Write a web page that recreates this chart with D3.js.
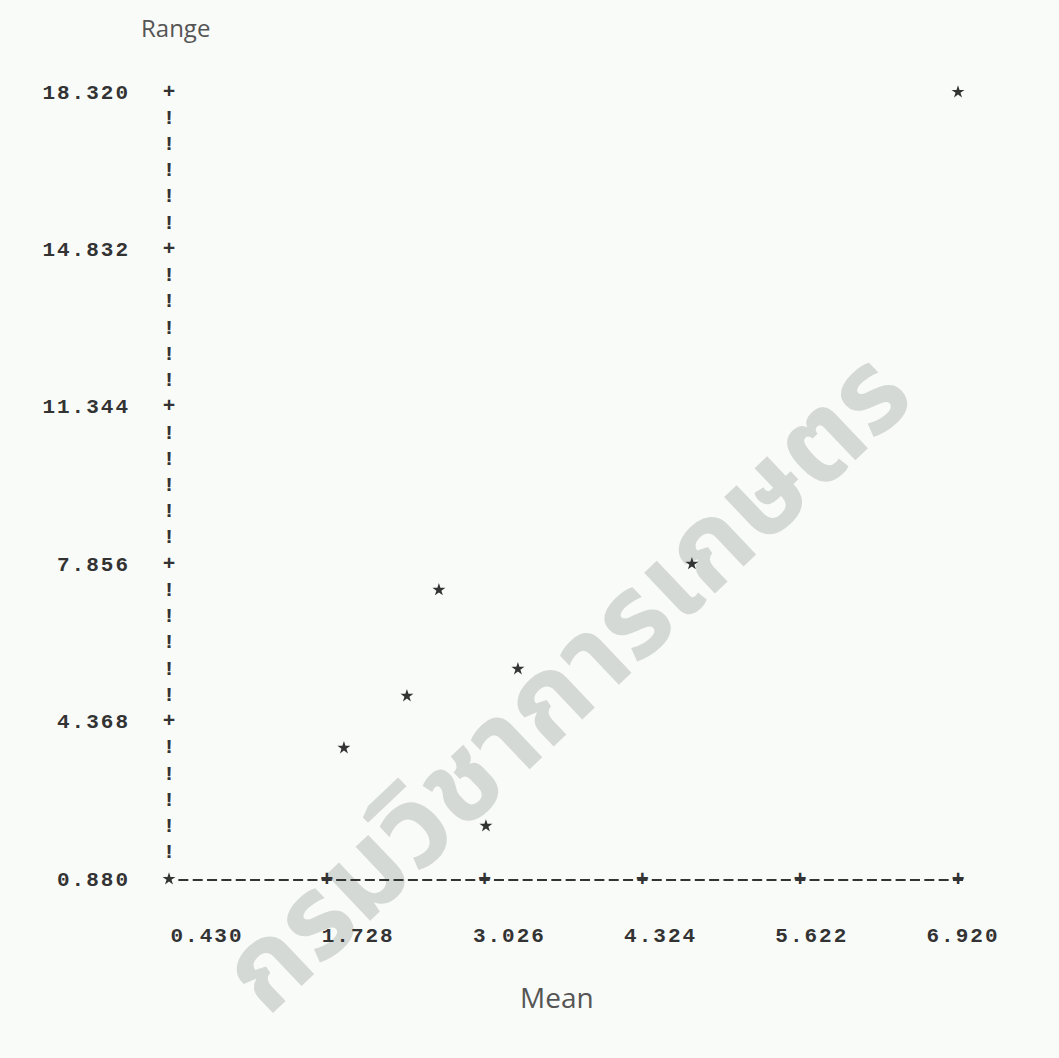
<!DOCTYPE html>
<html>
<head>
<meta charset="utf-8">
<script src="https://cdn.jsdelivr.net/npm/d3@7"></script>
<style>
  html, body { margin: 0; padding: 0; background: #f9fbf9; }
  svg { display: block; }
</style>
</head>
<body>
<svg id="chart"></svg>
<script>
// tick labels as printed by the line-printer plot
const xTickValues = [0.430, 1.728, 3.026, 4.324, 5.622, 6.920];
const xTickLabels = ["0.430", "1.728", "3.026", "4.324", "5.622", "6.920"];
const yTickValues = [0.880, 4.368, 7.856, 11.344, 14.832, 18.320];
const yTickLabels = ["0.880", "4.368", "7.856", "11.344", "14.832", "18.320"];

// series
const meanValues  = [0.430, 1.869, 2.387, 2.650, 3.037, 3.300, 4.731, 6.920];
const rangeValues = [0.880, 3.785, 4.938, 7.288, 2.055, 5.536, 7.864, 18.320];

const watermark = "กรมวิชาการเกษตร";

const W = 1059, H = 1058;
const mono = "'Liberation Mono', 'Courier New', 'DejaVu Sans Mono', monospace";
const ink = "#333";

const svg = d3.select("#chart").attr("width", W).attr("height", H);

svg.append("rect").attr("width", W).attr("height", H).attr("fill", "#f9fbf9");

// watermark sits behind everything
svg.append("text")
  .attr("transform", "translate(568,684) rotate(-43.5)")
  .attr("text-anchor", "middle")
  .attr("dominant-baseline", "central")
  .attr("font-family", "'Noto Sans Thai', 'Noto Sans', 'DejaVu Sans', sans-serif")
  .attr("font-size", 116)
  .attr("font-weight", "bold")
  .attr("fill", "#d5d9d6")
  .text(watermark);

const x = d3.scaleLinear().domain([0.430, 6.920]).range([169, 958]);
const y = d3.scaleLinear().domain([0.880, 18.320]).range([879, 92]);

const g = svg.append("g");

// vertical axis: "+" at ticks, "!" between (6 printer rows per tick step)
const rowsPerTick = 6;
const nRows = (yTickValues.length - 1) * rowsPerTick;
const yStep = (y.domain()[1] - y.domain()[0]) / nRows;
d3.range(1, nRows + 1).forEach((i) => {
  g.append("text")
    .attr("x", x(x.domain()[0]))
    .attr("y", y(y.domain()[0] + i * yStep))
    .attr("text-anchor", "middle")
    .attr("dominant-baseline", "central")
    .attr("font-family", mono)
    .attr("font-weight", "bold")
    .attr("font-size", 21)
    .attr("fill", ink)
    .text(i % rowsPerTick === 0 ? "+" : "!");
});

// horizontal axis: dashed run with one "-" per printer column (11 columns per tick step)
const colsPerTick = 11;
const nCols = (xTickValues.length - 1) * colsPerTick;
const colW = (x.range()[1] - x.range()[0]) / nCols;
const dashLen = 10;
const axisY = y(y.domain()[0]) + 1;
g.append("line")
  .attr("x1", x.range()[0] + colW - dashLen / 2)
  .attr("x2", x.range()[1] + dashLen / 2)
  .attr("y1", axisY).attr("y2", axisY)
  .attr("stroke", ink)
  .attr("stroke-width", 2.2)
  .attr("stroke-dasharray", `${dashLen} ${colW - dashLen}`);

xTickValues.slice(1).forEach((v) => {
  g.append("text")
    .attr("x", x(v))
    .attr("y", axisY)
    .attr("text-anchor", "middle")
    .attr("dominant-baseline", "central")
    .attr("font-family", mono)
    .attr("font-weight", "bold")
    .attr("font-size", 22)
    .attr("fill", ink)
    .text("+");
});

// y tick labels
yTickValues.forEach((v, i) => {
  g.append("text")
    .attr("x", 130)
    .attr("y", y(v) + 1)
    .attr("text-anchor", "end")
    .attr("dominant-baseline", "central")
    .attr("font-family", mono)
    .attr("font-weight", "bold")
    .attr("font-size", 21)
    .attr("letter-spacing", 2)
    .attr("fill", ink)
    .text(yTickLabels[i]);
});

// x tick labels are printed on their own column grid, not quite under the "+"
const labelPos = d3.scaleLinear().domain([0, xTickLabels.length - 1]).range([207, 963]);
xTickLabels.forEach((t, i) => {
  g.append("text")
    .attr("x", labelPos(i))
    .attr("y", 936)
    .attr("text-anchor", "middle")
    .attr("dominant-baseline", "central")
    .attr("font-family", mono)
    .attr("font-weight", "bold")
    .attr("font-size", 21)
    .attr("letter-spacing", 2)
    .attr("fill", ink)
    .text(t);
});

// axis titles
svg.append("text")
  .attr("x", 141).attr("y", 37)
  .attr("font-family", "'Open Sans', 'Lato', sans-serif")
  .attr("font-size", 24)
  .attr("fill", "#555")
  .text("Range");

svg.append("text")
  .attr("x", 520).attr("y", 1008)
  .attr("font-family", "'Open Sans', 'Lato', sans-serif")
  .attr("font-size", 28)
  .attr("fill", "#555")
  .text("Mean");

// points
const star = d3.symbol(d3.symbolStar, 52);
meanValues.forEach((m, i) => {
  g.append("path")
    .attr("d", star())
    .attr("transform", `translate(${x(m)},${y(rangeValues[i])})`)
    .attr("fill", ink);
});
</script>
</body>
</html>
